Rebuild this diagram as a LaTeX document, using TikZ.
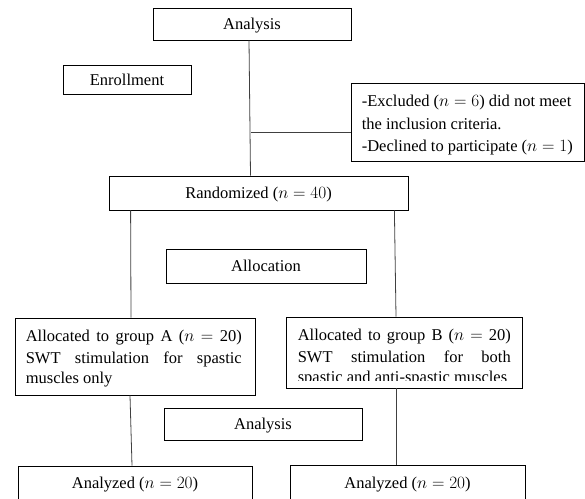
\documentclass[tikz,border=0pt]{standalone}
\usepackage{fontspec}
\setmainfont{Liberation Serif}
\usetikzlibrary{calc}
\begin{document}
\begin{tikzpicture}[x=1pt,y=-1pt,
  box/.style={draw=black, line width=0.8pt, inner sep=0pt, text depth=0pt},
  link/.style={draw=black!75, line width=0.8pt},
  txt/.style={inner sep=0pt, anchor=base west},
  every node/.style={font=\fontsize{16.5}{19}\selectfont}]
\clip (0,0) rectangle (585,498);
% boxes
\node[box, minimum width=198pt, minimum height=32pt] (an1) at (252,24) {Analysis};
\node[box, minimum width=128pt, minimum height=29pt] (enr) at (127,79.5) {Enrollment};
\node[box, minimum width=233pt, minimum height=78pt] (excl) at (467.5,122) {};
\node[box, minimum width=299pt, minimum height=34pt] (rand) at (258.5,193) {Randomized ($n = 40$)};
\node[box, minimum width=200pt, minimum height=34pt] (alloc) at (266,266) {Allocation};
\node[box, minimum width=240pt, minimum height=77pt] (ga) at (135,356.5) {};
\node[box, minimum width=236pt, minimum height=71pt] (gb) at (404,352.5) {};
\node[box, minimum width=198pt, minimum height=32pt] (an2) at (263,424) {Analysis};
\node[box, minimum width=234pt, minimum height=40pt] (aa) at (135,486) {};
\node[box, minimum width=235pt, minimum height=40pt] (ab) at (407.5,485) {};
\node[inner sep=0pt] (aat) at ($(aa.north)+(0,19)$) {Analyzed ($n = 20$)};
\node[inner sep=0pt] (abt) at ($(ab.north)+(0,20)$) {Analyzed ($n = 20$)};
% excluded text
\node[txt] (ex1) at ($(excl.north west)+(11,24)$) {-Excluded ($n = 6$) did not meet};
\node[txt] (ex2) at ($(excl.north west)+(11,47)$) {the inclusion criteria.};
\node[txt] (ex3) at ($(excl.north west)+(11,69)$) {-Declined to participate ($n = 1$)};
% group A text
\node[txt] (ga1) at ($(ga.north west)+(11,24)$) {\makebox[216pt][l]{Allocated\hfill to\hfill group\hfill A\hfill ($n$\hfill$=$\hfill20)}};
\node[txt] (ga2) at ($(ga.north west)+(11,46)$) {\makebox[216pt][l]{SWT\hfill stimulation\hfill for\hfill spastic}};
\node[txt] (ga3) at ($(ga.north west)+(11,66)$) {muscles only};
% group B text
\node[txt] (gb1) at ($(gb.north west)+(12,24)$) {\makebox[213pt][l]{Allocated\hfill to\hfill group\hfill B\hfill ($n$\hfill$=$\hfill20)}};
\node[txt] (gb2) at ($(gb.north west)+(12,46)$) {\makebox[213pt][l]{SWT\hfill stimulation\hfill for\hfill both}};
\begin{scope}
\clip ($(gb.north west)+(1,1)$) rectangle ($(gb.south east)+(-1,-7.5)$);
\node[txt] (gb3) at ($(gb.north west)+(12,66)$) {spastic and anti-spastic muscles};
\end{scope}
% connectors
\coordinate (j) at (251,132);
\draw[link] ([xshift=-3pt]an1.south) -- ([xshift=-8pt]rand.north);
\draw[link] (j) -- (j -| excl.west);
\draw[link] ([xshift=22pt]rand.south west) -- ([xshift=-4pt]ga.north);
\draw[link] ([xshift=-14pt]rand.south east) -- ([xshift=-8pt]gb.north);
\draw[link] ([xshift=-5pt]ga.south) -- ([xshift=-3pt]aa.north);
\draw[link] ([xshift=-8pt]gb.south) -- ([xshift=-11.5pt]ab.north);
\end{tikzpicture}
\end{document}
